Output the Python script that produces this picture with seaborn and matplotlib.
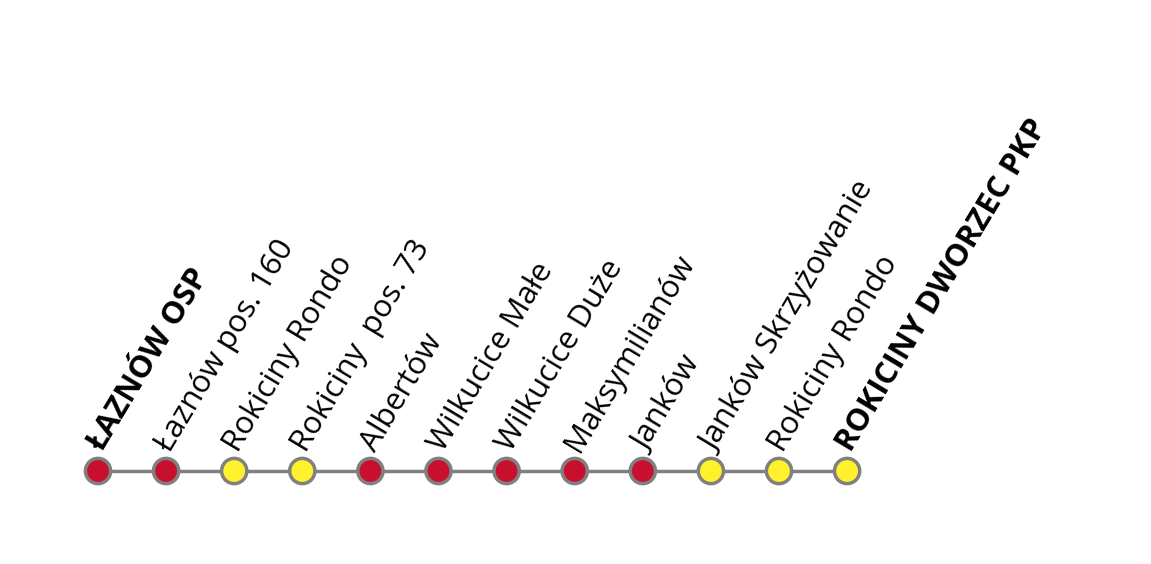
import matplotlib
matplotlib.use("Agg")
import matplotlib.pyplot as plt
import seaborn as sns
import pandas as pd

stops = ["ŁAZNÓW OSP", "Łaznów pos. 160", "Rokiciny Rondo", "Rokiciny  pos. 73",
         "Albertów", "Wilkucice Małe", "Wilkucice Duże", "Maksymilianów",
         "Janków", "Janków Skrzyżowanie", "Rokiciny Rondo", "ROKICINY DWORZEC PKP"]
kinds = ["red", "red", "yellow", "yellow", "red", "red", "red", "red",
         "red", "yellow", "yellow", "yellow"]
bold = [True] + [False] * 10 + [True]

sns.set_theme(style="white")
plt.rcParams['font.family'] = ['Open Sans', 'DejaVu Sans']

df = pd.DataFrame({"pos": range(len(stops)), "y": 0, "kind": kinds})
fig = plt.figure(figsize=(11.51, 5.64), dpi=100)
ax = fig.add_axes([0, 0, 1, 1])
ax.plot(df["pos"], df["y"], color="#808080", lw=2.5, zorder=1)
sns.scatterplot(data=df, x="pos", y="y", hue="kind",
                palette={"red": "#C8102E", "yellow": "#FFF22D"},
                s=330, edgecolor="#808080", linewidth=2.5, legend=False, ax=ax, zorder=2)
for i, (name, b) in enumerate(zip(stops, bold)):
    ax.annotate(name, (i, 0), xytext=(3, 13), textcoords="offset points",
                rotation=59, rotation_mode="anchor", ha="left", va="baseline",
                fontsize=22.5, fontweight="bold" if b else "normal", color="black")
ax.set_xlim(-98 / 68.1, (1151 - 98) / 68.1)
ax.set_ylim(-93, 471)
ax.axis("off")
fig.savefig("out.png", dpi=100)
